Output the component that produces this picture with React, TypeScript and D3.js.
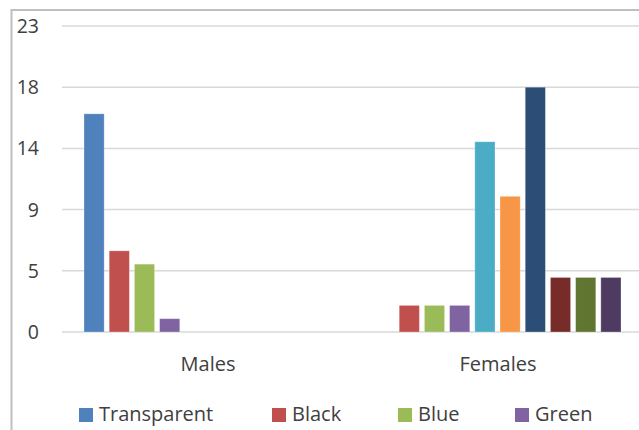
import React from "react";
import * as d3 from "d3";

const categories = ["Males", "Females"];
const seriesNames = ["Transparent", "Black", "Blue", "Green", "Series 5", "Series 6", "Series 7", "Series 8", "Series 9", "Series 10"];
const seriesColors = ["#4F81BD", "#C0504D", "#9BBB59", "#8064A2", "#4BACC6", "#F79646", "#2C4D75", "#772C2A", "#5F7530", "#4D3B62"];
const malesValues = [16.4, 6.1, 5.1, 1.0, 0, 0, 0, 0, 0, 0];
const femalesValues = [0, 2.0, 2.0, 2.0, 14.3, 10.2, 18.4, 4.1, 4.1, 4.1];
const tickValues = [0, 4.6, 9.2, 13.8, 18.4, 23];
const tickLabels = ["0", "5", "9", "14", "18", "23"];
const legendItems = ["Transparent", "Black", "Blue", "Green"];

const W = 639;
const H = 430;
const FONT = "'Open Sans', sans-serif";

export default function App() {
  const values = [malesValues, femalesValues];
  const y = d3.scaleLinear().domain([0, 23]).range([332, 26]);
  const x0 = d3.scaleBand<string>().domain(categories).range([62, 642]).padding(0);
  const x1 = d3.scaleBand<string>().domain(seriesNames).range([22, 269]).paddingInner(0.2).paddingOuter(0);
  const legendX = [79, 272, 398, 515];

  return (
    <svg width={W} height={H} style={{ position: "absolute", left: 0, top: 0, display: "block", background: "#fff" }}>
      <rect x={0} y={0} width={W} height={H} fill="#fff" />
      <line x1={11.5} y1={10} x2={11.5} y2={H} stroke="#BFBFBF" strokeWidth={2} />
      <line x1={10.5} y1={10} x2={W} y2={10} stroke="#BFBFBF" strokeWidth={2} />
      {tickValues.map((t, i) => (
        <g key={i}>
          <line x1={62} x2={W} y1={y(t)} y2={y(t)} stroke="#D9D9D9" strokeWidth={1.5} />
          <text x={39} y={y(t)} dy="0.36em" textAnchor="end" fontFamily={FONT} fontSize={19.5} fill="#404040">
            {tickLabels[i]}
          </text>
        </g>
      ))}
      {categories.map((c, ci) => (
        <g key={c} transform={`translate(${x0(c)},0)`}>
          {seriesNames.map((s, si) => {
            const v = values[ci][si];
            if (!v) return null;
            return (
              <rect
                key={s}
                x={x1(s)}
                y={y(v)}
                width={x1.bandwidth()}
                height={y(0) - y(v)}
                fill={seriesColors[si]}
                stroke="#fff"
                strokeOpacity={0.35}
                strokeWidth={0.8}
              />
            );
          })}
          <text x={x0.bandwidth() / 2 + 1} y={371} textAnchor="middle" fontFamily={FONT} fontSize={20} fill="#404040">
            {c}
          </text>
        </g>
      ))}
      {legendItems.map((l, i) => (
        <g key={l}>
          <rect x={legendX[i]} y={408} width={14} height={14} fill={seriesColors[i]} />
          <text x={legendX[i] + 20} y={421} fontFamily={FONT} fontSize={20} fill="#404040">
            {l}
          </text>
        </g>
      ))}
    </svg>
  );
}
